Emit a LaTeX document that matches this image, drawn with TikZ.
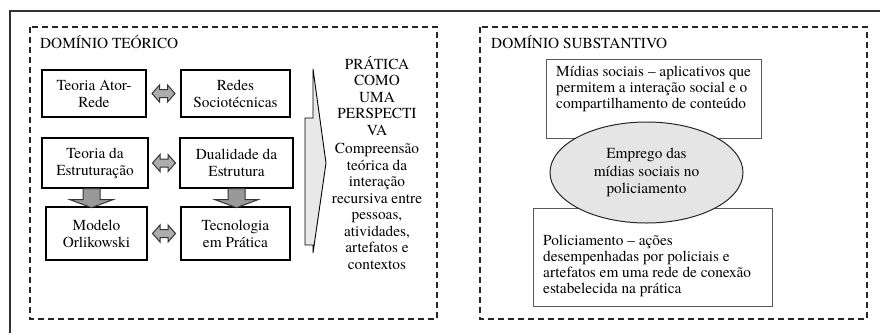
\documentclass[tikz,border=0pt]{standalone}
\usepackage{fontspec}
\setmainfont{texgyretermes-regular.otf}[BoldFont=texgyretermes-bold.otf,ItalicFont=texgyretermes-italic.otf]
\usetikzlibrary{shapes.geometric,calc}
\begin{document}
\begin{tikzpicture}[x=1pt,y=-1pt,
  font=\fontsize{15.3}{17}\selectfont,
  frame/.style={draw=black!80, line width=1.4pt},
  dom/.style={draw=black!85, line width=1.3pt, dash pattern=on 6pt off 4pt},
  tbox/.style={draw=black, line width=1.3pt, align=center, inner sep=0pt},
  gbox/.style={draw=black!65, line width=0.8pt, inner sep=0pt},
  txt/.style={align=left, inner sep=0pt, anchor=north west},
  dblarr/.pic={\draw[line width=1pt, draw=black!80, fill=black!32]
     (-11.5,0) -- (-4,-8.5) -- (-4,-4) -- (4,-4) -- (4,-8.5) -- (11.5,0)
     -- (4,8.5) -- (4,4) -- (-4,4) -- (-4,8.5) -- cycle;},
  downarr/.pic={\draw[line width=1pt, draw=black!80, fill=black!40]
     (-8.5,0) -- (8.5,0) -- (8.5,11) -- (21.5,11) -- (0,19) -- (-21.5,11)
     -- (-8.5,11) -- cycle;}
]
\useasboundingbox (0,0) rectangle (880,333);

% outer frame (partly visible)
\draw[frame] (10,333) -- (10,11) -- (880,11);

% domain boxes
\draw[dom] (30,27) rectangle (437,319);
\draw[dom] (480,27) rectangle (867,319);
\node[anchor=west, inner sep=0pt] (dt) at (40,42) {DOMÍNIO TEÓRICO};
\node[anchor=west, inner sep=0pt] (ds) at (491,42) {DOMÍNIO SUBSTANTIVO};

% left boxes
\node[tbox, minimum width=104, minimum height=47] (b1) at (94,93.5) {Teoria Ator-\\Rede};
\node[tbox, minimum width=109, minimum height=47] (b2) at (235.5,93.5) {Redes\\Sociotécnicas};
\node[tbox, minimum width=106, minimum height=50] (b3) at (95,163) {Teoria da\\Estruturação};
\node[tbox, minimum width=113, minimum height=50] (b4) at (236.5,163) {Dualidade da\\Estrutura};
\node[tbox, minimum width=101, minimum height=53] (b5) at (96.5,233.5) {Modelo\\Orlikowski};
\node[tbox, minimum width=109, minimum height=53] (b6) at (235.5,233.5) {Tecnologia\\em Prática};

\pic at ($(b1.east)!0.5!(b2.west)$) {dblarr};
\pic at ($(b3.east)!0.5!(b4.west)$) {dblarr};
\pic at ($(b5.east)!0.5!(b6.west)$) {dblarr};
\pic at ($(b3.south)+(-3.5,0)$) {downarr};
\pic at (b4.south) {downarr};

% big arrow
\draw[line width=0.9pt, fill=black!9]
  (305,118) -- (313,118) -- (313,69) -- (326,163) -- (313,253)
  -- (313,245) -- (305,245) -- cycle;

\node[align=center, inner sep=0pt, font=\fontsize{15.3}{16.5}\selectfont] (prat) at (377,163)
  {PRÁTICA\\COMO\\UMA\\PERSPECTI\\VA\\[2pt]Compreensão\\teórica da\\interação\\recursiva entre\\pessoas,\\atividades,\\artefatos e\\contextos};

% right side
\node[gbox, minimum width=215, minimum height=79, anchor=north west] (mbox) at (546,59) {};
\node[txt, font=\fontsize{15.3}{15.8}\selectfont] (mtxt) at (556,66)
  {Mídias sociais – aplicativos que\\permitem a interação social e o\\compartilhamento de conteúdo};
\node[gbox, minimum width=239, minimum height=98, anchor=north west] (pbox) at (533,208) {};
\node[txt, font=\fontsize{15.3}{16}\selectfont] (ptxt) at (543,235)
  {Policiamento – ações\\desempenhadas por policiais e\\artefatos em uma rede de conexão\\estabelecida na prática};
\node[ellipse, draw=black!85, line width=1pt, fill=black!10, minimum width=193,
  minimum height=101, inner sep=0pt, align=center,
  font=\fontsize{15.3}{17.5}\selectfont] (emp) at (646.5,172.5)
  {Emprego das\\mídias sociais no\\policiamento};
\end{tikzpicture}
\end{document}
